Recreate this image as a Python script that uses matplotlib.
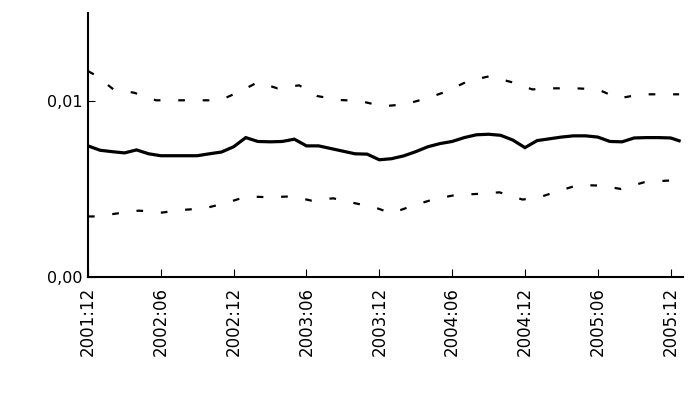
import numpy as np
import matplotlib
matplotlib.use('Agg')
import matplotlib.pyplot as plt
import matplotlib.ticker as ticker

# months counted from 2001:12
tick_labels = ['2001:12', '2002:06', '2002:12', '2003:06', '2003:12',
               '2004:06', '2004:12', '2005:06', '2005:12']
tick_pos = [0, 6, 12, 18, 24, 30, 36, 42, 48]

mid_x = [0, 1, 2, 3, 4, 5, 6, 7, 8, 9, 10, 11, 12, 13, 14, 15, 16, 17, 18,
         19, 20, 21, 22, 23, 24, 25, 26, 27, 28, 29, 30, 31, 32, 33, 34, 35,
         36, 37, 38, 39, 40, 41, 42, 43, 44, 45, 46, 47, 48, 48.7]
mid_y = [0.00745, 0.00720, 0.00712, 0.00705, 0.00722, 0.00700, 0.00689,
         0.00689, 0.00689, 0.00689, 0.00700, 0.00710, 0.00740, 0.00792,
         0.00770, 0.00768, 0.00770, 0.00783, 0.00745, 0.00745, 0.00730,
         0.00715, 0.00700, 0.00698, 0.00666, 0.00672, 0.00688, 0.00712,
         0.00740, 0.00758, 0.00770, 0.00792, 0.00808, 0.00811, 0.00805,
         0.00778, 0.00735, 0.00775, 0.00785, 0.00795, 0.00802, 0.00802,
         0.00795, 0.00770, 0.00768, 0.00790, 0.00792, 0.00792, 0.00790,
         0.00774]

up_x = [0, 0.6, 2.1, 3.8, 5.6, 10.9, 12.6, 14.0, 15.6, 17.4, 18.9, 20.7,
        22.4, 24.3, 26.1, 27.9, 29.5, 31.3, 33.1, 34.9, 36.6, 38.4, 40.2,
        42.0, 43.7, 45.6, 47.4, 48.7]
up_y = [0.01170, 0.01147, 0.01066, 0.01047, 0.01004, 0.01004, 0.01057,
        0.01107, 0.01072, 0.01089, 0.01028, 0.01006, 0.01000, 0.00970,
        0.00981, 0.01015, 0.01053, 0.01113, 0.01141, 0.01107, 0.01066,
        0.01072, 0.01072, 0.01066, 0.01015, 0.01038, 0.01038, 0.01038]

low_x = [0, 0.7, 2.5, 4.2, 6.1, 7.8, 9.6, 11.4, 13.1, 14.9, 16.8, 18.4,
         20.2, 22.0, 23.6, 25.0, 26.8, 28.6, 30.3, 32.1, 33.9, 35.8, 37.1,
         38.7, 40.4, 42.3, 43.9, 45.8, 47.6, 48.7]
low_y = [0.00344, 0.00344, 0.00362, 0.00377, 0.00366, 0.00381, 0.00390,
         0.00421, 0.00458, 0.00453, 0.00458, 0.00434, 0.00447, 0.00419,
         0.00396, 0.00362, 0.00406, 0.00444, 0.00466, 0.00472, 0.00481,
         0.00440, 0.00451, 0.00487, 0.00523, 0.00519, 0.00500, 0.00538,
         0.00547, 0.00550]

fig = plt.figure(figsize=(6.9, 3.94), dpi=100)
ax = fig.add_axes([0.1275, 0.297, 0.862, 0.67])

ax.plot(mid_x, mid_y, color='black', lw=2.3, solid_joinstyle='miter')
ax.plot(up_x, up_y, color='black', lw=1.6, linestyle=(0, (3, 8)))
ax.plot(low_x, low_y, color='black', lw=1.6, linestyle=(0, (3, 8)))

ax.set_xlim(0, 49)
ax.set_ylim(0, 0.015)
ax.set_xticks(tick_pos)
ax.set_xticklabels(tick_labels, rotation=90, fontsize=12)
ax.set_yticks([0, 0.01])
ax.yaxis.set_major_formatter(ticker.FuncFormatter(
    lambda v, p: ('%.2f' % v).replace('.', ',')))
ax.tick_params(axis='y', labelsize=11.5, direction='in', length=5, pad=4)
ax.tick_params(axis='x', direction='in', length=6, pad=7)

for s in ['top', 'right']:
    ax.spines[s].set_visible(False)
for s in ['left', 'bottom']:
    ax.spines[s].set_linewidth(1.5)

fig.savefig('out.png', dpi=100)
